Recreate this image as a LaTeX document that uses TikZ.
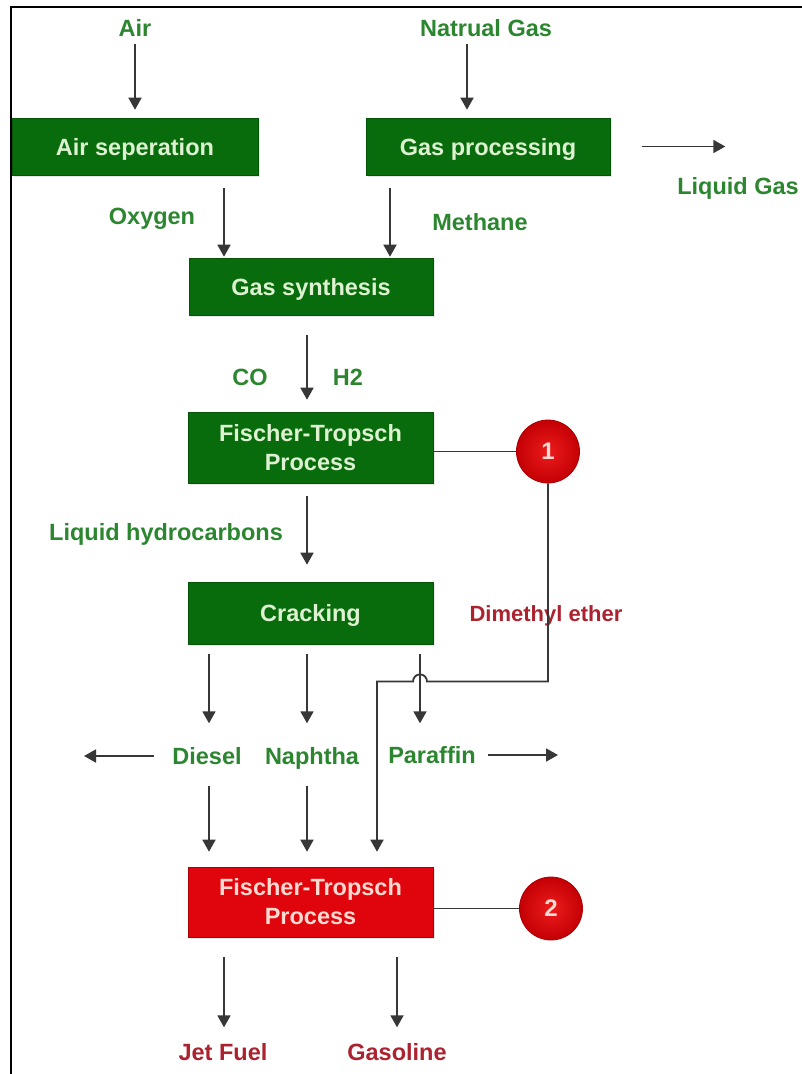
\documentclass[tikz,border=0pt]{standalone}
\usepackage{fontspec}
\setmainfont{Liberation Sans}
\usetikzlibrary{arrows.meta,calc,shadows}
\definecolor{boxgreen}{RGB}{8,108,12}
\definecolor{boxgreenedge}{RGB}{5,85,8}
\definecolor{boxtext}{RGB}{222,242,210}
\definecolor{labgreen}{RGB}{44,134,48}
\definecolor{labred}{RGB}{172,34,46}
\definecolor{boxred}{RGB}{224,4,12}
\definecolor{boxrededge}{RGB}{170,0,6}
\definecolor{redtext}{RGB}{255,218,208}
\definecolor{arrowgray}{RGB}{55,55,55}
\definecolor{ballin}{RGB}{236,28,28}
\definecolor{ballout}{RGB}{196,0,4}
\begin{document}
\begin{tikzpicture}[x=1pt,y=-1pt,
  procbox/.style={rectangle, inner sep=0pt, align=center, line width=0.6pt,
    font=\bfseries\fontsize{23.5}{29}\selectfont,
    drop shadow={opacity=0.18, shadow xshift=2pt, shadow yshift=-2pt}},
  gbox/.style={procbox, fill=boxgreen, draw=boxgreenedge, text=boxtext},
  rbox/.style={procbox, fill=boxred, draw=boxrededge, text=redtext},
  oneline/.style={text height=17pt, text depth=0pt},
  glab/.style={inner sep=0pt, text height=17pt, text depth=0pt, text=labgreen,
    font=\bfseries\fontsize{23.5}{28}\selectfont},
  rlab/.style={glab, text=labred},
  ball/.style={circle, minimum size=63pt, inner sep=0pt, inner color=ballin,
    outer color=ballout, draw=boxrededge, line width=0.8pt, text=redtext,
    font=\bfseries\fontsize{24}{28}\selectfont},
  arr/.style={draw=arrowgray, line width=1.8pt, -{Triangle[length=12pt,width=13pt]}},
  link/.style={draw=arrowgray, line width=1.5pt}
]
\useasboundingbox (0,0) rectangle (802,1074);
\fill[white] (0,0) rectangle (802,1074);
% frame
\draw[black, line width=2pt] (11,1074) -- (11,7) -- (802,7);

% process boxes
\node[gbox, oneline, minimum width=246pt, minimum height=57pt] (as) at (135,146.5) {Air seperation};
\node[gbox, oneline, minimum width=244pt, minimum height=57pt] (gp) at (488,146.5) {Gas processing};
\node[gbox, oneline, minimum width=244pt, minimum height=57pt] (gs) at (311,286.5) {Gas synthesis};
\node[gbox, minimum width=245pt, minimum height=71pt] (ft1) at (310.5,447.5) {Fischer-Tropsch\\Process};
\node[gbox, oneline, minimum width=245pt, minimum height=62pt] (cr) at (310.5,613) {Cracking};
\node[rbox, minimum width=245pt, minimum height=70pt] (ft2) at (310.5,902) {Fischer-Tropsch\\Process};
\node[ball] (c1) at (548,451.5) {1};
\node[ball] (c2) at (551,908.5) {2};

% labels
\node[glab] (air) at (135,28) {Air};
\node[glab] (ng) at (486,28) {Natrual Gas};
\node[glab] (lg) at (738,186) {Liquid Gas};
\node[glab] (ox) at (152,216) {Oxygen};
\node[glab] (me) at (480,222) {Methane};
\node[glab] (co) at (250,377) {CO};
\node[glab] (h2) at (348,377) {H2};
\node[glab] (lh) at (166,532) {Liquid hydrocarbons};
\node[rlab, font=\bfseries\fontsize{22}{26}\selectfont] (dme) at (546,613) {Dimethyl ether};
\node[glab] (di) at (207,756) {Diesel};
\node[glab] (na) at (312,756) {Naphtha};
\node[glab] (pa) at (432,755) {Paraffin};
\node[rlab] (jf) at (223,1052) {Jet Fuel};
\node[rlab] (ga) at (397,1052) {Gasoline};

% top arrows
\draw[arr] ($(air.south)+(0,7)$) -- ($(as.north)+(0,-8)$);
\draw[arr] ($(ng.south)+(-19,7)$) -- ($(gp.north)+(-21,-8)$);
\draw[arr] ($(gp.east)+(32,0)$) -- ($(gp.east)+(115,0)$);
\draw[arr] ($(as.south)+(89,13)$) -- ($(gs.north)+(-87,-1)$);
\draw[arr] ($(gp.south)+(-98,13)$) -- ($(gs.north)+(79,-1)$);
\draw[arr] ($(gs.south)+(-4,20)$) -- ($(ft1.north)+(-3.5,-12)$);
\draw[link] (ft1.east |- c1.west) -- (c1.west);
\draw[arr] ($(ft1.south)+(-3.5,13)$) -- ($(cr.north)+(-3.5,-17)$);

% from cracking
\draw[arr] ($(cr.south)+(-101.5,10)$) -- ($(cr.south)+(-101.5,79)$);
\draw[arr] ($(cr.south)+(-3.5,10)$) -- ($(cr.south)+(-3.5,79)$);
\coordinate (pax) at ($(cr.south)+(109.5,10)$);
\draw[arr] (pax) -- ($(pax)+(0,69)$);
\draw[arr] ($(di)+(-53,0)$) -- ($(di)+(-123,0)$);
\draw[arr] ($(pa)+(56,0)$) -- ($(pa)+(126,0)$);
\draw[arr] ($(ft2.north)+(-101.5,-81)$) -- ($(ft2.north)+(-101.5,-15)$);
\draw[arr] ($(ft2.north)+(-3.5,-81)$) -- ($(ft2.north)+(-3.5,-15)$);

% dimethyl ether line with hop
\coordinate (dmebend) at ($(c1.south)+(0,198)$);
\coordinate (dmeend) at ($(ft2.north)+(66.5,-15)$);
\draw[arr] (c1.south) -- (dmebend) -- ($(dmebend -| pax)+(7,0)$)
  arc[start angle=0, end angle=180, radius=7pt]
  -- (dmeend |- dmebend) -- (dmeend);

% bottom
\draw[link] (ft2.east |- c2.west) -- (c2.west);
\draw[arr] ($(ft2.south)+(-86.5,20)$) -- ($(ft2.south)+(-86.5,90)$);
\draw[arr] ($(ft2.south)+(86.5,20)$) -- ($(ft2.south)+(86.5,90)$);
\end{tikzpicture}
\end{document}
